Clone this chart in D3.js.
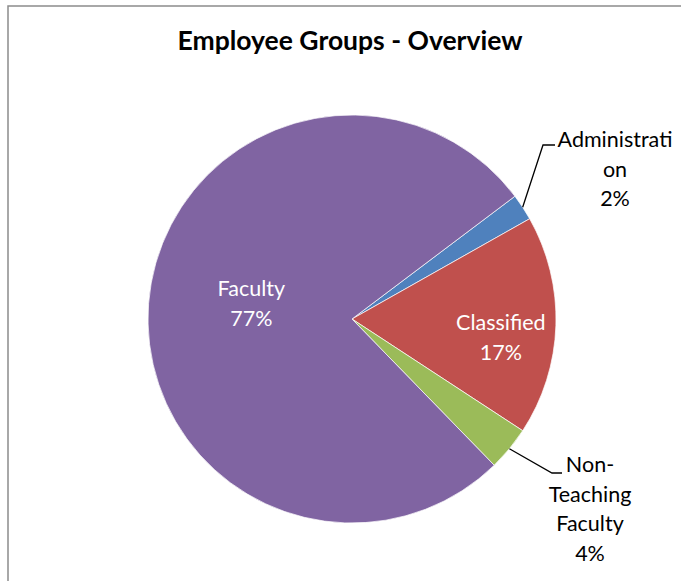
<!DOCTYPE html>
<head>
    <meta charset="utf-8">
    <title>Employee Groups - Overview</title>
    <style>
        body { margin: 0; background: #fff; }
        text { font-family: Lato, "Open Sans", sans-serif; }
    </style>
</head>
<body>
<svg width="681" height="581"></svg>
<script src="https://d3js.org/d3.v7.min.js"></script>
<script>

    // data (percent of employees)
    var groups = ["Administration", "Classified", "Non-Teaching Faculty", "Faculty"],
        shares = [2.1, 17.4, 3.5, 77.0],
        pctLabels = ["2%", "17%", "4%", "77%"],
        // how each label wraps in the original
        labelLines = [["Administrati", "on", "2%"], ["Classified", "17%"], ["Non-", "Teaching", "Faculty", "4%"], ["Faculty", "77%"]],
        colors = ["#4F81BD", "#C0504D", "#9BBB59", "#8064A2"];

    var svg = d3.select("svg"),
        cx = 352, cy = 319, radius = 204;

    // chart frame (cut off on right and bottom)
    svg.append("rect")
        .attr("x", 8).attr("y", 6)
        .attr("width", 700).attr("height", 600)
        .attr("fill", "none")
        .attr("stroke", "#8c8c8c")
        .attr("stroke-width", 1.5);

    svg.append("text")
        .attr("x", 350).attr("y", 50)
        .attr("text-anchor", "middle")
        .style("font-size", "26.5px")
        .style("font-weight", "bold")
        .text("Employee Groups - Overview");

    var startA = 53 * Math.PI / 180;   // pie is rotated, admin slice starts at ~53deg

    var pie = d3.pie().sort(null)
        .startAngle(startA).endAngle(startA + 2 * Math.PI);

    var arcs = pie(shares);

    var arc = d3.arc().innerRadius(0).outerRadius(radius);

    var g = svg.append("g").attr("transform", "translate(" + cx + "," + cy + ")");

    g.selectAll(".slice")
        .data(arcs)
        .enter().append("path")
        .attr("class", "slice")
        .attr("d", arc)
        .attr("fill", function(d, i) { return colors[i]; })
        .attr("stroke", "#fff")
        .attr("stroke-width", 0.7);

    function polar(a, r) { return [Math.sin(a) * r, -Math.cos(a) * r]; }
    function mid(d) { return (d.startAngle + d.endAngle) / 2; }

    var lineH = 29.5;

    // label placement: inside ones at a fraction of radius, outside ones with leader lines
    var place = [
        {out: true, elbow: [543 - cx, 145 - cy], end: [555 - cx, 145 - cy], tx: 615 - cx, ty: 147 - cy},
        {out: false, r: 0.73, dx: 0, dy: 15},
        {out: true, elbow: [552 - cx, 473 - cy], end: [562 - cx, 473 - cy], tx: 590 - cx, ty: 472 - cy},
        {out: false, r: 0.5, dx: 1, dy: -6}
    ];

    arcs.forEach(function(d, i) {
        var p = place[i], lines = labelLines[i], x, y;
        if (p.out) {
            var s = polar(mid(d), radius);
            g.append("path")
                .attr("d", d3.line()([s, p.elbow, p.end]))
                .attr("fill", "none")
                .attr("stroke", "#000")
                .attr("stroke-width", 1.3);
            x = p.tx; y = p.ty;
        } else {
            var c = polar(mid(d), radius * p.r);
            x = c[0] + p.dx;
            y = c[1] + p.dy - (lines.length - 1) * lineH / 2 + 6;
        }
        var t = g.append("text")
            .attr("text-anchor", "middle")
            .style("font-size", "21.5px")
            .attr("fill", p.out ? "#000" : "#fff");
        lines.forEach(function(l, k) {
            t.append("tspan").attr("x", x).attr("y", y + k * lineH).text(l);
        });
    });

</script>
</body>
